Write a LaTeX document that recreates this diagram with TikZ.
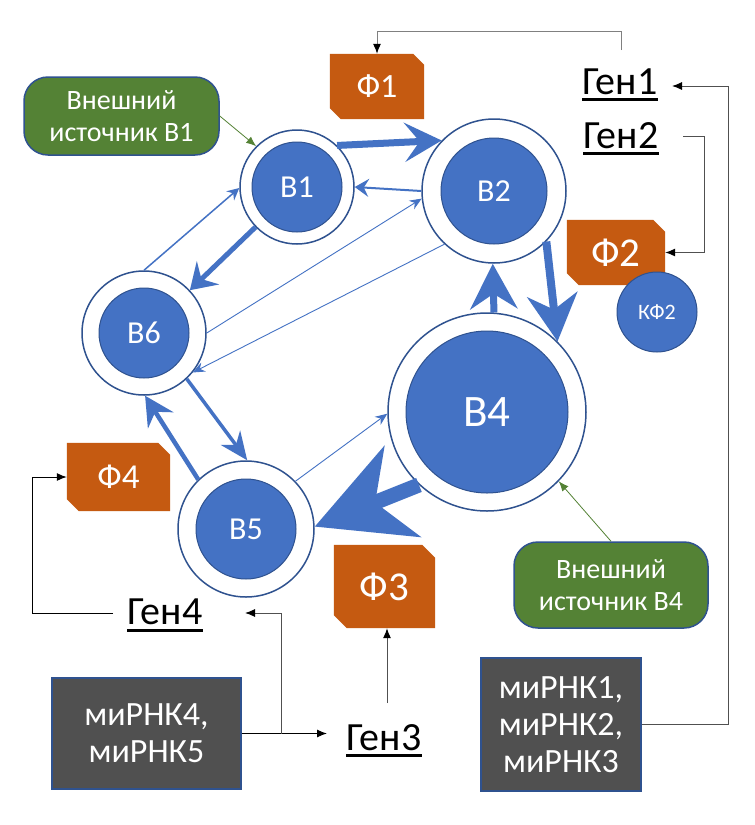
\documentclass[tikz,border=0pt]{standalone}
\usepackage{fontspec}
\setmainfont{Carlito}
\usetikzlibrary{arrows.meta}
\definecolor{myblue}{HTML}{4472C4}
\definecolor{dkblue}{HTML}{2F528F}
\definecolor{forange}{HTML}{C55A11}
\definecolor{fgreen}{HTML}{548235}
\definecolor{mgrey}{HTML}{505050}
\definecolor{lgrey}{HTML}{808080}
\definecolor{dgrey}{HTML}{505050}
\tikzset{
  outerc/.style={circle, draw=dkblue, line width=1.5pt, fill=white, inner sep=0pt},
  innerc/.style={circle, draw=dkblue, line width=1pt, fill=myblue, inner sep=0pt, text=white},
  snipn/.style={rectangle, inner sep=0pt},
  sniptext/.style={text=white, inner sep=0pt},
  gbox/.style={rectangle, rounded corners=24pt, fill=fgreen, draw=dkblue, line width=1.5pt, text=white, align=center, font=\fontsize{28}{32}\selectfont, inner sep=0pt},
  mbox/.style={rectangle, fill=mgrey, draw=dkblue, line width=1.5pt, text=white, align=center, font=\fontsize{34}{37}\selectfont, inner sep=0pt},
  gen/.style={inner sep=0pt, font=\fontsize{40}{48}\selectfont},
  uline/.style={line width=3pt},
  ba/.style={draw=myblue},
  conn/.style={line width=1pt, -{Latex[length=10pt,width=8pt,color=black]}},
  garrow/.style={draw=fgreen, line width=0.8pt, -{Latex[length=10pt,width=8pt]}},
}
\newcommand\snipfill[2]{\fill[forange] (#1.north west) -- ([xshift=-#2]#1.north east) -- ([yshift=-#2]#1.north east) -- (#1.south east) -- ([xshift=#2]#1.south west) -- ([yshift=#2]#1.south west) -- cycle;}
\begin{document}
\begin{tikzpicture}[x=1pt,y=-1pt]
\useasboundingbox (0,0) rectangle (755,825);
\fill[white] (0,0) rectangle (755,825);

% green boxes
\node[gbox, minimum width=195pt, minimum height=78pt] (GB1) at (121.5,116) {Внешний\\источник В1};
\node[gbox, minimum width=194pt, minimum height=86pt] (GB4) at (611,585) {Внешний\\источник В4};

% orange boxes
\node[snipn, minimum width=94pt, minimum height=65pt] (F1) at (377,86.5) {};
\snipfill{F1}{11pt}
\node[sniptext, font=\fontsize{34}{40}\selectfont] (F1t) at (F1) {Ф1};
\node[snipn, minimum width=98pt, minimum height=65pt] (F2) at (616,252.5) {};
\snipfill{F2}{12pt}
\node[sniptext, font=\fontsize{41}{48}\selectfont] (F2t) at (F2) {Ф2};
\node[snipn, minimum width=101pt, minimum height=83pt] (F3) at (384.5,586.5) {};
\snipfill{F3}{13pt}
\node[sniptext, font=\fontsize{41}{48}\selectfont] (F3t) at (F3) {Ф3};
\node[snipn, minimum width=103pt, minimum height=68pt] (F4) at (118.5,477) {};
\snipfill{F4}{12pt}
\node[sniptext, font=\fontsize{35}{40}\selectfont] (F4t) at (F4) {Ф4};

% grey boxes
\node[mbox, minimum width=189pt, minimum height=111pt] (M4) at (146.5,733.5) {миРНК4,\\миРНК5};
\node[mbox, minimum width=160pt, minimum height=133pt] (M1) at (561,724.5) {миРНК1,\\миРНК2,\\миРНК3};

% circles
\node[outerc, minimum size=114pt] (B1) at (297,187) {};
\node[innerc, minimum size=90pt, font=\fontsize{32}{36}\selectfont] (B1i) at (B1) {В1};
\node[outerc, minimum size=144pt] (B2) at (494,191) {};
\node[innerc, minimum size=106pt, font=\fontsize{32}{36}\selectfont] (B2i) at (B2) {В2};
\node[outerc, minimum size=124pt] (B6) at (144,333) {};
\node[innerc, minimum size=90pt, font=\fontsize{32}{36}\selectfont] (B6i) at (B6) {В6};
\node[outerc, minimum size=136pt] (B5) at (246,529) {};
\node[innerc, minimum size=100pt, font=\fontsize{32}{36}\selectfont] (B5i) at (B5) {В5};
\node[outerc, minimum size=198pt] (B4) at (487,412) {};
\node[innerc, minimum size=162pt, font=\fontsize{45}{50}\selectfont] (B4i) at (B4) {В4};
\node[innerc, minimum size=80pt, font=\fontsize{22}{26}\selectfont] (KF2) at (657,312) {КФ2};

% blue arrows
\draw[ba, line width=7pt, -{Stealth[length=37pt,width=39pt,inset=15pt]}] (B1.46) -- (B2.136);
\draw[ba, line width=2pt, -{Stealth[length=14pt,width=18pt,inset=5pt]}] (B2.180) -- (B1.0);
\draw[ba, line width=0.9pt, -{Stealth[length=12pt,width=10pt,inset=4pt]}] (B6.0) -- (B2.186);
\draw[ba, line width=0.9pt, -{Stealth[length=12pt,width=10pt,inset=4pt]}] (B2.227) -- (B6.-39);
\draw[ba, line width=1.5pt, -{Stealth[length=12pt,width=12pt,inset=4pt]}] (B6.90) -- (B1.181);
\draw[ba, line width=5pt, -{Stealth[length=25pt,width=32pt,inset=9pt]}] (B1.224) -- (B6.43);
\draw[ba, line width=4.5pt, -{Stealth[length=29pt,width=30pt,inset=10pt]}] (B5.134) -- (B6.-89);
\draw[ba, line width=3.5pt, -{Stealth[length=28pt,width=24pt,inset=9pt]}] (B6.-47) -- (B5.89);
\draw[ba, line width=0.9pt, -{Stealth[length=12pt,width=10pt,inset=4pt]}] (B5.44) -- (B4.181);
\draw[ba, line width=15pt, -{Stealth[length=94pt,width=97pt,inset=29pt]}] (B4.227) -- (B5.2);
\draw[ba, line width=7pt, -{Stealth[length=45pt,width=47pt,inset=15pt]}] (B4.86.5) -- (B2.269);
\draw[ba, line width=8pt, -{Stealth[length=47pt,width=50pt,inset=15pt]}] (B2.-44) -- (B4.45);

% green arrows
\draw[garrow] (GB1.east) -- (B1.135);
\draw[garrow] (GB4.north) -- (B4.-44);

% gene labels
\node[gen] (G1) at (620,82) {Ген1};
\node[gen] (G2) at (621,136) {Ген2};
\node[gen] (G3) at (384,738) {Ген3};
\node[gen] (G4) at (165,612) {Ген4};
\draw[uline] ([yshift=-5pt]G1.base west) -- ([yshift=-5pt]G1.base east);
\draw[uline] ([yshift=-5pt]G2.base west) -- ([yshift=-5pt]G2.base east);
\draw[uline] ([yshift=-5pt]G3.base west) -- ([yshift=-5pt]G3.base east);
\draw[uline] ([yshift=-6pt]G4.base west) -- ([yshift=-6pt]G4.base east);

% connectors
\coordinate (g1a) at (621,50);
\draw[conn, draw=lgrey] (g1a) -- (621,31) -| (F1.north);
\coordinate (g2a) at (683,136);
\draw[conn, draw=dgrey] (g2a) -- (704,136) |- (F2.east);
\coordinate (g1in) at (672,86);
\draw[conn, draw=dgrey] (M1.east) -| (728,86) -- (g1in);
\coordinate (g3in) at (327,733.5);
\draw[conn, draw=black] (M4.east) -- (g3in);
\coordinate (br) at (281,733.5);
\coordinate (g4in) at (245,613);
\draw[conn, draw=dgrey] (br) |- (g4in);
\coordinate (g3a) at (387,703);
\draw[conn, draw=dgrey] (g3a) -- (g3a |- F3.south);
\coordinate (g4a) at (113,613);
\draw[conn, draw=black] (g4a) -- (32,613) |- (F4.west);
\end{tikzpicture}
\end{document}
